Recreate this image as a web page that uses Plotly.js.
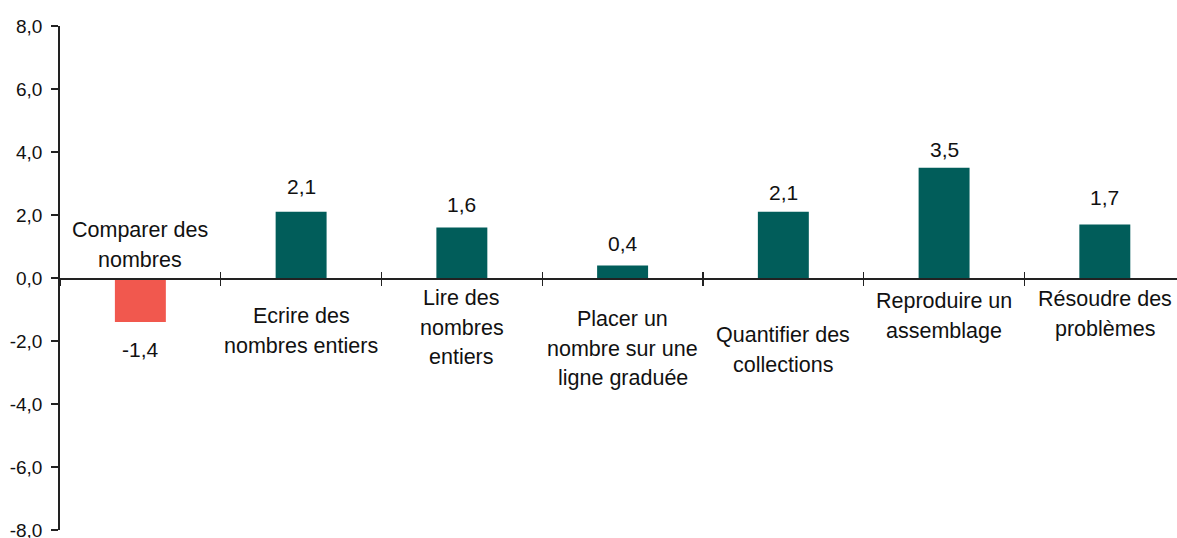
<!DOCTYPE html>
<html><head><meta charset="utf-8">
<script src="https://cdn.plot.ly/plotly-3.0.1.min.js"></script>
<style>html,body{margin:0;padding:0;background:#fff}#chart{width:1177px;height:538px}</style>
</head><body><div id="chart"></div>
<script>
const categories = ["Comparer des nombres", "Ecrire des nombres entiers", "Lire des nombres entiers", "Placer un nombre sur une ligne graduée", "Quantifier des collections", "Reproduire un assemblage", "Résoudre des problèmes"];
const labelLines = [["Comparer des", "nombres"], ["Ecrire des", "nombres entiers"], ["Lire des", "nombres", "entiers"], ["Placer un", "nombre sur une", "ligne graduée"], ["Quantifier des", "collections"], ["Reproduire un", "assemblage"], ["Résoudre des", "problèmes"]];
const values = [-1.4, 2.1, 1.6, 0.4, 2.1, 3.5, 1.7];
const yTickVals = [-8, -6, -4, -2, 0, 2, 4, 6, 8];
const yTickText = ["-8,0", "-6,0", "-4,0", "-2,0", "0,0", "2,0", "4,0", "6,0", "8,0"];

// style / layout helpers (pixels)
const labelFirstShift = [-48, 38, 20, 41, 57, 23, 21];
const lineStep = 29.5;
const valueGap = [27, 25, 23, 21.5, 19.5, 18, 26.5];
const FONT = "'Liberation Sans', Arial, sans-serif";
const TEAL = "#015d5a", RED = "#f1584e", INK = "#111111";

const xRange = [-0.5, 6.449];

const barTrace = {
  type: "bar", x: categories, y: values, width: 0.317,
  marker: {color: values.map(v => v < 0 ? RED : TEAL)},
  hoverinfo: "skip", xaxis: "x", yaxis: "y"
};
const ghostTrace = {
  type: "bar", x: categories, y: values, width: 0.317,
  marker: {color: "rgba(0,0,0,0)"}, hoverinfo: "skip", xaxis: "x2", yaxis: "y", showlegend: false
};

const annotations = [];
labelLines.forEach((lines, i) => {
  lines.forEach((t, k) => {
    annotations.push({x: i, y: 0, xref: "x", yref: "y", text: t, showarrow: false,
      xanchor: "center", yanchor: "middle", yshift: -(labelFirstShift[i] + k * lineStep),
      font: {family: FONT, size: 21.5, color: INK}});
  });
});
values.forEach((v, i) => {
  annotations.push({x: i, y: v, xref: "x", yref: "y", text: v.toFixed(1).replace(".", ","), showarrow: false,
    xanchor: "center", yanchor: "middle", yshift: v >= 0 ? valueGap[i] : -valueGap[i],
    font: {family: FONT, size: 21, color: INK}});
});

const axisCommon = {
  type: "category", range: xRange, anchor: "free", position: 0.5,
  tickson: "boundaries", ticklen: 6, tickwidth: 1.3, tickcolor: "#222",
  showticklabels: false, showgrid: false, zeroline: false, fixedrange: true
};

const layout = {
  width: 1177, height: 538,
  margin: {l: 60, r: 0, t: 26, b: 8, pad: 0},
  paper_bgcolor: "#ffffff", plot_bgcolor: "#ffffff",
  showlegend: false,
  font: {family: FONT, color: INK},
  xaxis: Object.assign({}, axisCommon, {ticks: "outside", showline: true, linecolor: "#222", linewidth: 1.5}),
  xaxis2: Object.assign({}, axisCommon, {ticks: "inside", overlaying: "x", showline: false}),
  yaxis: {
    range: [-8, 8], tickvals: yTickVals, ticktext: yTickText,
    ticks: "outside", ticklen: 7, tickwidth: 1.5, tickcolor: "#222",
    showline: true, linecolor: "#222", linewidth: 1.8,
    showgrid: false, zeroline: false, fixedrange: true,
    tickfont: {family: FONT, size: 19, color: INK}, ticklabelstandoff: 5,
    ticklabeloverflow: "allow"
  },
  annotations: annotations
};

Plotly.newPlot("chart", [barTrace, ghostTrace], layout, {displayModeBar: false, staticPlot: true});
</script>
</body></html>
